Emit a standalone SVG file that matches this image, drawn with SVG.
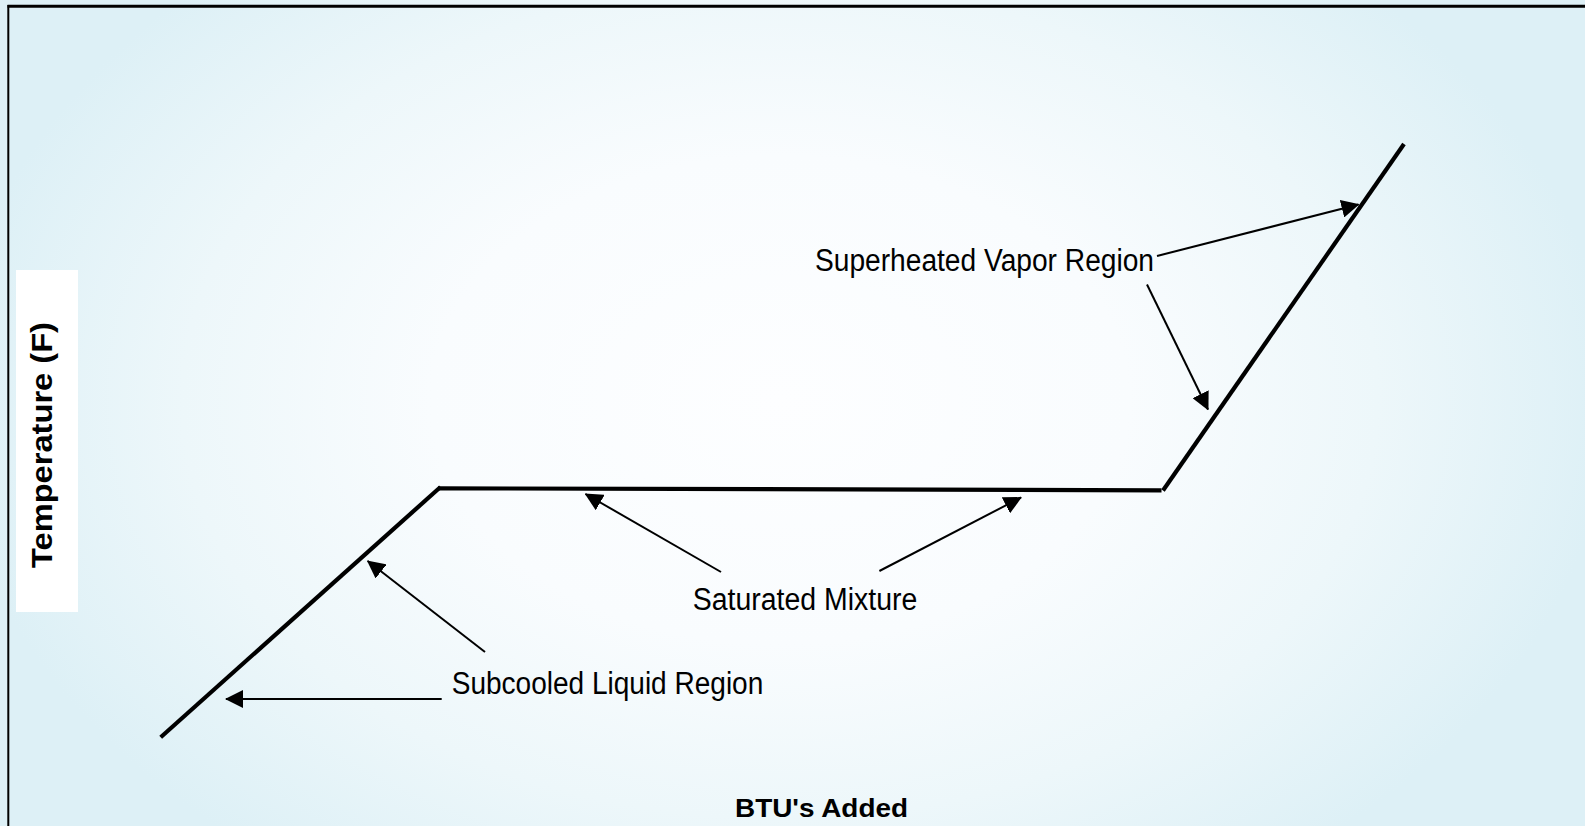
<svg xmlns="http://www.w3.org/2000/svg" width="1585" height="826" viewBox="0 0 1585 826">
  <defs>
    <radialGradient id="bg" gradientUnits="userSpaceOnUse" cx="780" cy="400" r="830" gradientTransform="translate(780 400) scale(1 0.7) translate(-780 -400)">
      <stop offset="0" stop-color="#fdfeff"/>
      <stop offset="0.42" stop-color="#f9fcfe"/>
      <stop offset="0.72" stop-color="#edf7fa"/>
      <stop offset="1" stop-color="#ddf0f6"/>
    </radialGradient>
    <marker id="ah" viewBox="0 0 18 18" refX="17" refY="9" markerWidth="18" markerHeight="18" markerUnits="userSpaceOnUse" orient="auto">
      <path d="M0,0 L18,9 L0,18 Z" fill="#000"/>
    </marker>
    <style>
      .curve { stroke: #000; stroke-width: 4.2; fill: none; stroke-linecap: butt; }
      .arrow { stroke: #000; stroke-width: 2; fill: none; marker-end: url(#ah); }
      .lbl { font-family: "Liberation Sans", Arial, sans-serif; font-size: 31px; fill: #000; }
      .axis { font-family: "Liberation Sans", Arial, sans-serif; font-weight: bold; fill: #000; }
    </style>
  </defs>

  <rect x="0" y="0" width="1585" height="826" fill="url(#bg)"/>

  <g id="frame">
    <line x1="1585" y1="6.2" x2="7.5" y2="6.2" stroke="#000" stroke-width="3"/>
    <line x1="8.3" y1="5" x2="8.3" y2="826" stroke="#000" stroke-width="2"/>
  </g>

  <g id="y-axis-label">
    <rect x="16" y="270" width="62" height="342" fill="#ffffff"/>
    <text class="axis" font-size="30" transform="translate(52 445) rotate(-90)" text-anchor="middle" textLength="246" lengthAdjust="spacingAndGlyphs">Temperature (F)</text>
  </g>

  <g id="x-axis-label">
    <text class="axis" font-size="26" x="735" y="817" textLength="173" lengthAdjust="spacingAndGlyphs">BTU's Added</text>
  </g>

  <g id="curve">
    <line class="curve" x1="160.7" y1="737.3" x2="440.5" y2="487"/>
    <line class="curve" x1="438" y1="488.3" x2="1161.5" y2="490.3"/>
    <line class="curve" x1="1163" y1="490.5" x2="1404" y2="144"/>
  </g>

  <g id="subcooled">
    <text class="lbl" x="451.7" y="693.5" textLength="311.6" lengthAdjust="spacingAndGlyphs">Subcooled Liquid Region</text>
  </g>
  <g id="saturated">
    <text class="lbl" x="692.7" y="610" textLength="224.6" lengthAdjust="spacingAndGlyphs">Saturated Mixture</text>
  </g>
  <g id="superheated">
    <text class="lbl" x="815" y="271" textLength="339" lengthAdjust="spacingAndGlyphs">Superheated Vapor Region</text>
  </g>

  <g id="connectors">
    <line class="arrow" x1="441.7" y1="699" x2="226" y2="699"/>
    <line class="arrow" x1="485" y1="652" x2="367.7" y2="561"/>
    <line class="arrow" x1="721" y1="572" x2="585.5" y2="494"/>
    <line class="arrow" x1="879.4" y1="571" x2="1021" y2="497.5"/>
    <line class="arrow" x1="1157" y1="256" x2="1358.5" y2="204.5"/>
    <line class="arrow" x1="1147" y1="284.5" x2="1208" y2="409.5"/>
  </g>
</svg>
